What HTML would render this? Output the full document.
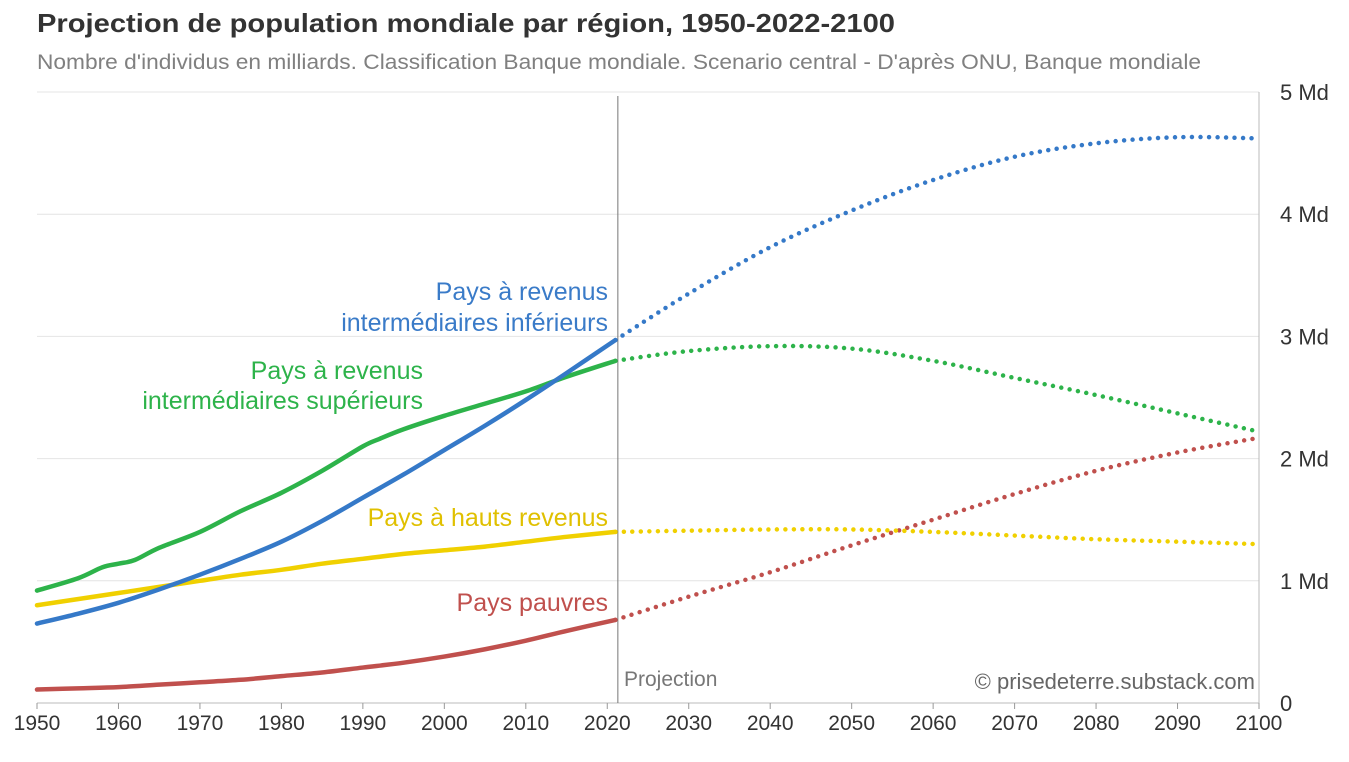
<!DOCTYPE html>
<html><head><meta charset="utf-8"><style>
body{margin:0;background:#fff;font-family:"Liberation Sans",sans-serif}
svg text{font-family:"Liberation Sans",sans-serif}
</style></head><body>
<svg id="chart" width="1349" height="757">
<text x="37" y="32" font-size="26" font-weight="bold" fill="#333" textLength="858" lengthAdjust="spacingAndGlyphs">Projection de population mondiale par région, 1950-2022-2100</text>
<text x="37" y="69" font-size="21" fill="#808080" textLength="1164" lengthAdjust="spacingAndGlyphs">Nombre d'individus en milliards. Classification Banque mondiale. Scenario central  - D'après ONU, Banque mondiale</text>
<g id="grid"></g><g id="series"></g><g id="labels"></g>
</svg>
<script>
const histYears5=[1950,1955,1960,1965,1970,1975,1980,1985,1990,1995,2000,2005,2010,2015,2021];
const greenYears=[1950,1955,1958,1960,1962,1965,1970,1975,1980,1985,1990,1992,1995,2000,2005,2010,2015,2021];
const projYears=[2021,2030,2040,2050,2060,2070,2080,2090,2100];
const lowerMid=[0.65,0.73,0.82,0.93,1.05,1.18,1.32,1.49,1.68,1.87,2.07,2.27,2.48,2.7,2.97];
const lowerMidProj=[2.97,3.35,3.73,4.03,4.28,4.47,4.58,4.63,4.62];
const upperMid=[0.92,1.02,1.11,1.14,1.17,1.27,1.4,1.57,1.72,1.9,2.1,2.16,2.24,2.35,2.45,2.55,2.67,2.8];
const upperMidProj=[2.8,2.88,2.92,2.9,2.8,2.66,2.52,2.37,2.22];
const high=[0.8,0.85,0.9,0.95,1.0,1.05,1.09,1.14,1.18,1.22,1.25,1.28,1.32,1.36,1.4];
const highProj=[1.4,1.41,1.42,1.42,1.4,1.37,1.34,1.32,1.3];
const poor=[0.11,0.12,0.13,0.15,0.17,0.19,0.22,0.25,0.29,0.33,0.38,0.44,0.51,0.59,0.68];
const poorProj=[0.68,0.87,1.07,1.29,1.5,1.71,1.9,2.05,2.17];
const xTicks=[1950,1960,1970,1980,1990,2000,2010,2020,2030,2040,2050,2060,2070,2080,2090,2100];
const yTicks=[0,1,2,3,4,5];
const yTickLabels=["0","1 Md","2 Md","3 Md","4 Md","5 Md"];
const NS="http://www.w3.org/2000/svg";
const X=y=>37+(y-1950)*(1259-37)/150;
const Y=v=>703-v*122.2;
function mk(tag,attrs,parent){const e=document.createElementNS(NS,tag);for(const k in attrs)e.setAttribute(k,attrs[k]);parent.appendChild(e);return e;}
const grid=document.getElementById('grid'),ser=document.getElementById('series'),lab=document.getElementById('labels');
yTicks.forEach((t,i)=>{
 const l=mk('line',{x1:37,x2:1259,y1:Y(t),y2:Y(t),stroke:i==0?'#bbb':'#e4e4e4','stroke-width':1},grid);
 
 
 const tx=mk('text',{x:1280,y:Y(t)+8,'font-size':22,fill:'#333'},grid);tx.textContent=yTickLabels[i];
 
 
});
const ax=mk('line',{x1:1259,x2:1259,y1:92,y2:703,stroke:'#bbb'},grid);


xTicks.forEach(t=>{
 const tk=mk('line',{x1:X(t),x2:X(t),y1:703,y2:709,stroke:'#999'},grid);
 
 
 const tx=mk('text',{x:X(t),y:730,'font-size':21,fill:'#333','text-anchor':'middle'},grid);tx.textContent=t;
 
 
});
const pl=mk('line',{x1:X(2021.3),x2:X(2021.3),y1:96,y2:703,stroke:'#777','stroke-width':1},grid);


function smooth(pts){
 let d='M'+pts[0][0]+','+pts[0][1];
 for(let i=0;i<pts.length-1;i++){
  const p0=pts[i-1]||pts[i],p1=pts[i],p2=pts[i+1],p3=pts[i+2]||p2;
  const c1=[p1[0]+(p2[0]-p0[0])/6,p1[1]+(p2[1]-p0[1])/6];
  const c2=[p2[0]-(p3[0]-p1[0])/6,p2[1]-(p3[1]-p1[1])/6];
  d+=' C'+c1+' '+c2+' '+p2;
 }
 return d;
}
function draw(xs,vs,color,dotted,name){
 const p=mk('path',{d:smooth(xs.map((y,i)=>[X(y),Y(vs[i])])),fill:'none',stroke:color,'stroke-width':4.5,'stroke-linejoin':'round','stroke-linecap':'round'},ser);
 if(dotted)p.setAttribute('stroke-dasharray','0 8.5');
 
 
}
draw(histYears5,poor,'#c0504d',false,'line-poor');draw(projYears,poorProj,'#c0504d',true,'line-poor-projection');
draw(histYears5,high,'#f0d000',false,'line-high');draw(projYears,highProj,'#f0d000',true,'line-high-projection');
draw(greenYears,upperMid,'#2db34a',false,'line-upper-middle');draw(projYears,upperMidProj,'#2db34a',true,'line-upper-middle-projection');
draw(histYears5,lowerMid,'#3579c8',false,'line-lower-middle');draw(projYears,lowerMidProj,'#3579c8',true,'line-lower-middle-projection');
function t(x,y,s,c,anchor,name,size){const e=mk('text',{x:x,y:y,'font-size':size||25,fill:c,'text-anchor':anchor},lab);e.textContent=s;
 
 }
t(608,300,'Pays à revenus','#3a7bc8','end','label-lower-middle');
t(608,331,'intermédiaires inférieurs','#3a7bc8','end','label-lower-middle-2');
t(423,379,'Pays à revenus','#2db34a','end','label-upper-middle');
t(423,409,'intermédiaires supérieurs','#2db34a','end','label-upper-middle-2');
t(608,526,'Pays à hauts revenus','#e0c000','end','label-high');
t(608,611,'Pays pauvres','#c0504d','end','label-poor');
t(624,686,'Projection','#777','start','projection-label',21);
t(1255,689,'© prisedeterre.substack.com','#666','end','credit',22);
</script>
</body></html>
